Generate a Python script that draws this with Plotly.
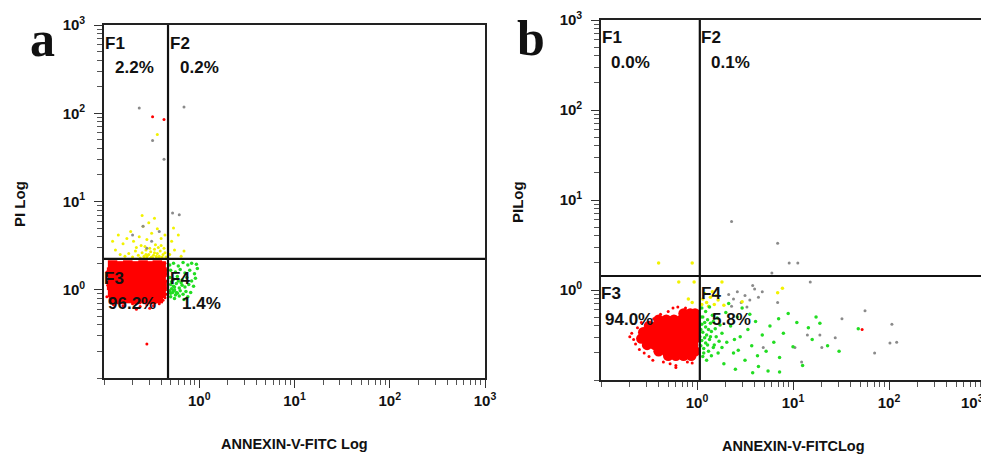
import plotly.graph_objects as go

# ---------------- DATA (event positions in decades, i.e. log10 of intensity) -------------
# Panel a
a_gate_x = 0.47
a_gate_y = 2.24
a_pct = ["2.2%", "0.2%", "96.2%", "1.4%"]

a_red_core_x = [-0.91, -0.83, -0.75, -0.67, -0.59, -0.51, -0.44, -0.40,
                -0.92, -0.84, -0.76, -0.68, -0.60, -0.52, -0.45, -0.39,
                -0.91, -0.83, -0.75, -0.67, -0.59, -0.51, -0.44, -0.40,
                -0.92, -0.84, -0.76, -0.68, -0.60, -0.52, -0.45, -0.39,
                -0.91, -0.83, -0.75, -0.67, -0.59, -0.51, -0.44, -0.40,
                -0.90, -0.82, -0.74, -0.66, -0.58, -0.50, -0.43]
a_red_core_y = [0.28, 0.27, 0.28, 0.27, 0.28, 0.27, 0.28, 0.27,
                0.20, 0.21, 0.20, 0.21, 0.20, 0.21, 0.20, 0.20,
                0.12, 0.13, 0.12, 0.13, 0.12, 0.13, 0.12, 0.13,
                0.05, 0.04, 0.05, 0.04, 0.05, 0.04, 0.05, 0.04,
                -0.03, -0.04, -0.03, -0.04, -0.03, -0.04, -0.03, -0.04,
                -0.10, -0.11, -0.10, -0.11, -0.10, -0.11, -0.10]
a_red_dots_x = [-0.36, -0.35, -0.37, -0.34, -0.36, -0.35, -0.38, -0.34, -0.36,
                -0.90, -0.80, -0.70, -0.62, -0.55, -0.48, -0.42, -0.66, -0.52,
                -0.97, -0.96, -0.97, -0.49, -0.37, -0.55]
a_red_dots_y = [0.30, 0.22, 0.15, 0.10, 0.02, -0.05, -0.12, 0.18, -0.09,
                -0.17, -0.18, -0.16, -0.19, -0.17, -0.18, -0.16, -0.22, -0.21,
                0.20, 0.05, -0.08, 1.96, 1.93, -0.615]

a_yellow_x = [-0.78, -0.74, -0.70, -0.67, -0.64, -0.62, -0.60, -0.58, -0.56, -0.55,
              -0.53, -0.51, -0.50, -0.48, -0.47, -0.45, -0.44, -0.42, -0.41, -0.39,
              -0.38, -0.36, -0.35, -0.66, -0.61, -0.57, -0.52, -0.46, -0.43, -0.40,
              -0.37, -0.88, -0.85, -0.80, -0.76, -0.72, -0.69, -0.63, -0.59, -0.55,
              -0.50, -0.47, -0.44, -0.40, -0.36, -0.31, -0.29, -0.26, -0.22, -0.19,
              -0.16, -0.27, -0.83, -0.91, -0.60, -0.53, -0.44, -0.58, -0.49, -0.54,
              -0.45, -0.51, -0.47, -0.42, -0.56]
a_yellow_y = [0.38, 0.41, 0.37, 0.44, 0.39, 0.36, 0.42, 0.38, 0.45, 0.37,
              0.40, 0.43, 0.37, 0.39, 0.46, 0.36, 0.41, 0.38, 0.44, 0.37,
              0.40, 0.42, 0.37, 0.48, 0.50, 0.49, 0.47, 0.51, 0.48, 0.50,
              0.47, 0.45, 0.62, 0.52, 0.58, 0.66, 0.55, 0.60, 0.72, 0.57,
              0.64, 0.81, 0.69, 0.58, 0.62, 0.40, 0.55, 0.45, 0.62, 0.38,
              0.44, 0.70, 0.40, 0.55, 0.84, 0.76, 1.76, 0.36, 0.36, 0.39,
              0.38, 0.36, 0.42, 0.36, 0.40]

a_green_x = [-0.31, -0.27, -0.22, -0.17, -0.12, -0.08, -0.03,
             -0.30, -0.25, -0.20, -0.15, -0.10, -0.05, -0.02,
             -0.31, -0.27, -0.23, -0.18, -0.13, -0.08, -0.04,
             -0.30, -0.27, -0.24, -0.21, -0.18, -0.15, -0.11, -0.06,
             -0.31, -0.28, -0.26, -0.23, -0.20, -0.17, -0.14, -0.09,
             -0.30, -0.26, -0.21, -0.16, -0.12,
             -0.29, -0.25, -0.19, -0.22, -0.29, -0.27, -0.24, -0.30, -0.26]
a_green_y = [0.28, 0.30, 0.27, 0.31, 0.28, 0.30, 0.29,
             0.22, 0.20, 0.23, 0.19, 0.22, 0.18, 0.24,
             0.14, 0.12, 0.15, 0.11, 0.14, 0.10, 0.13,
             0.06, 0.04, 0.07, 0.02, 0.05, 0.03, 0.06, 0.04,
             -0.01, -0.03, 0.00, -0.04, -0.01, -0.05, -0.02, -0.03,
             -0.08, -0.10, -0.07, -0.11, -0.08,
             0.09, -0.06, 0.08, 0.10, 0.01, -0.01, -0.03, -0.04, 0.03]

a_gray_x = [-0.63, -0.16, -0.49, -0.37, -0.28, -0.21, -0.59, -0.70, -0.50, -0.42, -0.55]
a_gray_y = [2.06, 2.07, 1.69, 1.48, 0.87, 0.85, 0.72, 0.62, 0.55, 0.66, 0.47]

# Panel b
b_gate_x = 1.07
b_gate_y = 1.43
b_pct = ["0.0%", "0.1%", "94.0%", "5.8%"]

b_red_core_x = [-0.14, -0.07, -0.02,
                -0.40, -0.32, -0.24, -0.16, -0.08, -0.02,
                -0.50, -0.42, -0.34, -0.26, -0.18, -0.10, -0.02,
                -0.56, -0.48, -0.40, -0.32, -0.24, -0.16, -0.08, -0.02,
                -0.58, -0.50, -0.42, -0.34, -0.26, -0.18, -0.10, -0.02,
                -0.52, -0.44, -0.36, -0.28, -0.20, -0.12, -0.04,
                -0.40, -0.32, -0.24, -0.16, -0.08, -0.02,
                -0.30, -0.22, -0.14, -0.06]
b_red_core_y = [-0.26, -0.26, -0.26,
                -0.33, -0.33, -0.33, -0.33, -0.33, -0.33,
                -0.40, -0.40, -0.40, -0.40, -0.40, -0.40, -0.40,
                -0.47, -0.47, -0.47, -0.47, -0.47, -0.47, -0.47, -0.47,
                -0.54, -0.54, -0.54, -0.54, -0.54, -0.54, -0.54, -0.54,
                -0.61, -0.61, -0.61, -0.61, -0.61, -0.61, -0.61,
                -0.68, -0.68, -0.68, -0.68, -0.68, -0.68,
                -0.73, -0.73, -0.73, -0.73]
b_red_dots_x = [-0.68, -0.66, -0.64, -0.70, -0.62, -0.60, -0.55, -0.50, -0.45,
                -0.38, -0.30, -0.25, -0.20, -0.12, -0.35, -0.28, -0.22, -0.10,
                -0.58, -0.46, -0.22, -0.05, 1.72]
b_red_dots_y = [-0.48, -0.55, -0.60, -0.52, -0.42, -0.66, -0.70, -0.74, -0.32,
                -0.27, -0.24, -0.20, -0.19, -0.20, -0.80, -0.82, -0.84, -0.80,
                -0.36, -0.78, -0.86, -0.81, -0.44]

b_green_x = [0.05, 0.09, 0.13, 0.06, 0.11, 0.16, 0.21, 0.05, 0.09, 0.14,
             0.19, 0.24, 0.06, 0.10, 0.15, 0.20, 0.26, 0.05, 0.09, 0.13,
             0.18, 0.23, 0.07, 0.12, 0.17, 0.22, 0.06, 0.10, 0.15, 0.04,
             0.04, 0.04, 0.08, 0.12, 0.17, 0.08, 0.03, 0.11, 0.07, 0.14,
             0.30, 0.35, 0.31, 0.38, 0.42, 0.45, 0.50, 0.53, 0.57, 0.61,
             0.64, 0.68, 0.72, 0.76, 0.80, 0.86, 0.90, 0.95, 1.00, 1.04,
             1.10, 1.16, 1.24, 1.28, 1.36, 1.68, 0.28, 0.40, 0.58, 0.47,
             0.33, 0.26, 0.39, 0.63, 0.85, 0.74, 1.20, 0.55, 0.43, 1.48,
             0.86]
b_green_y = [-0.20, -0.24, -0.19, -0.30, -0.33, -0.28, -0.31, -0.38, -0.41, -0.37,
             -0.43, -0.39, -0.47, -0.50, -0.46, -0.52, -0.48, -0.56, -0.59, -0.55,
             -0.61, -0.57, -0.65, -0.68, -0.64, -0.70, -0.74, -0.78, -0.73, -0.44,
             -0.62, -0.30, -0.53, -0.44, -0.35, -0.36, -0.52, -0.61, -0.70, -0.52,
             -0.25, -0.40, -0.58, -0.70, -0.30, -0.52, -0.78, -0.44, -0.62, -0.35,
             -0.85, -0.50, -0.68, -0.40, -0.58, -0.75, -0.48, -0.26, -0.63, -0.36,
             -0.84, -0.42, -0.30, -0.37, -0.62, -0.43, -0.82, -0.88, -0.92, -0.20,
             -0.15, -0.64, -0.55, -0.73, -0.32, -0.90, -0.55, -0.27, -0.67, -0.68,
             -0.91]

b_yellow_x = [-0.40, -0.05, -0.19, -0.03, 0.26, 0.06, 0.10, 0.14, 0.18, 0.22,
              0.28, 0.08, 0.16, 0.84, 0.47, -0.05, -0.09, 0.20, 0.12, 0.05, 0.89]
b_yellow_y = [0.30, 0.30, 0.09, 0.09, 0.09, -0.10, -0.14, -0.08, -0.16, -0.11,
              -0.17, -0.04, -0.02, -0.03, -0.13, -0.14, -0.10, -0.06, -0.18, -0.16, 0.02]

b_gray_x = [0.84, 0.96, 1.05, 0.36, 1.18, 0.78, 1.75, 1.51, 2.03, 1.85,
            2.01, 2.08, 1.09, 1.30, 1.02, 0.69, 1.15, 1.44, 1.28, 0.84,
            0.33, 0.38, 0.42, 0.46, 0.50, 0.55, 0.60, 0.64, 0.36, 0.52, 0.58, 0.68]
b_gray_y = [0.52, 0.30, 0.30, 0.76, 0.09, 0.19, -0.23, -0.32, -0.38, -0.70,
            -0.59, -0.58, -0.80, -0.64, -0.64, -0.64, -0.50, -0.53, -0.50, -0.14,
            -0.05, -0.10, -0.02, -0.14, -0.06, -0.11, 0.01, -0.08, -0.18, -0.19, 0.05, -0.02]

tick_vals = [1, 10, 100, 1000]
tick_text = ["<b>10<sup>0</sup></b>", "<b>10<sup>1</sup></b>",
             "<b>10<sup>2</sup></b>", "<b>10<sup>3</sup></b>"]
axis_range = [-1, 3]

# ---------------- FIGURE -------------------------------------------------------------
# the page body has an 8px margin, so the figure is drawn 8px smaller and
# every page-pixel position below is shifted by that offset
OFF = 8
W, H = 989 - OFF, 456 - OFF
RED, YEL, GRN, GRY = "#ff0000", "#f2f200", "#22dd22", "#8a8a8a"


def lin(v):
    return [10 ** t for t in v]


fig = go.Figure()


def add_pts(xs, ys, color, size, xa, ya, symbol="circle"):
    fig.add_trace(go.Scatter(x=lin(xs), y=lin(ys), mode="markers", xaxis=xa, yaxis=ya,
                             marker=dict(color=color, size=size, symbol=symbol,
                                         line=dict(width=0)),
                             hoverinfo="skip", showlegend=False))


def add_gate(gx, gy, xa, ya):
    lo, hi = 10 ** axis_range[0], 10 ** axis_range[1]
    for xs, ys in (([gx, gx], [lo, hi]), ([lo, hi], [gy, gy])):
        fig.add_trace(go.Scatter(x=xs, y=ys, mode="lines", xaxis=xa, yaxis=ya,
                                 line=dict(color="#111111", width=2.2),
                                 hoverinfo="skip", showlegend=False, cliponaxis=True))


# panel a
add_pts(a_yellow_x, a_yellow_y, YEL, 3, "x", "y")
add_pts(a_gray_x, a_gray_y, GRY, 3, "x", "y")
add_pts(a_green_x, a_green_y, GRN, 3.5, "x", "y")
add_pts(a_red_core_x, a_red_core_y, RED, 9.5, "x", "y", "square")
add_pts(a_red_dots_x, a_red_dots_y, RED, 3, "x", "y")
add_gate(a_gate_x, a_gate_y, "x", "y")

# panel b
add_pts(b_gray_x, b_gray_y, GRY, 3, "x2", "y2")
add_pts(b_yellow_x, b_yellow_y, YEL, 3.5, "x2", "y2")
add_pts(b_green_x, b_green_y, GRN, 3.5, "x2", "y2")
add_pts(b_red_core_x, b_red_core_y, RED, 10.5, "x2", "y2")
add_pts(b_red_dots_x, b_red_dots_y, RED, 3, "x2", "y2")
add_gate(b_gate_x, b_gate_y, "x2", "y2")

FONT = "Liberation Sans"


def axis(domain, anchor, is_x, ttext):
    return dict(type="log", range=axis_range, domain=domain, anchor=anchor,
                automargin=False,
                showline=True, linecolor="#222222", linewidth=1.6, mirror=True,
                showgrid=False, zeroline=False,
                ticks="outside", ticklen=8, tickwidth=1.4, tickcolor="#333333",
                tickmode="array", tickvals=tick_vals, ticktext=ttext,
                tickfont=dict(family=FONT, size=15, color="#111111"),
                ticklabelstandoff=0 if is_x else 6,
                minor=dict(ticks="outside", ticklen=5, tickwidth=1.3, tickcolor="#555555",
                           tickmode="linear", dtick="D1", showgrid=False),
                fixedrange=True)


# plot-area boxes in page pixels (left, right, top, bottom)
ax_a = (104, 485, 25, 378)
ax_b = (601, 985, 20, 380)


def dom(box):
    x0, x1, y0, y1 = box
    return ([(x0 - OFF) / W, (x1 - OFF) / W],
            [1 - (y1 - OFF) / H, 1 - (y0 - OFF) / H])


dxa, dya = dom(ax_a)
dxb, dyb = dom(ax_b)

tick_text_b = tick_text[:3] + [""]

fig.update_layout(
    template="none",
    width=W, height=H, margin=dict(l=0, r=0, t=0, b=0, autoexpand=False),
    paper_bgcolor="white", plot_bgcolor="white", showlegend=False,
    xaxis=axis(dxa, "y", True, tick_text), yaxis=axis(dya, "x", False, tick_text),
    xaxis2=axis(dxb, "y2", True, tick_text_b), yaxis2=axis(dyb, "x2", False, tick_text),
)

ann = []


def text(px, py, s, size=17, xanchor="left", yanchor="middle", angle=0, family=FONT, bold=True):
    ann.append(dict(x=(px - OFF) / W, y=1 - (py - OFF) / H, xref="paper", yref="paper",
                    text=(f"<b>{s}</b>" if bold else s),
                    showarrow=False, xanchor=xanchor, yanchor=yanchor, textangle=angle,
                    font=dict(family=family, size=size, color="#111111")))


# panel a quadrant labels
text(103, 43, "F1"); text(113, 68, a_pct[0])
text(168, 43, "F2"); text(178, 68, a_pct[1])
text(102, 278, "F3"); text(106, 303, a_pct[2])
text(168, 278, "F4"); text(180, 303, a_pct[3])
# panel b quadrant labels
text(600, 38, "F1"); text(609, 63, b_pct[0])
text(699, 38, "F2"); text(709, 63, b_pct[1])
text(599, 293, "F3"); text(603, 319, b_pct[2])
text(699, 293, "F4"); text(710, 319, b_pct[3])

# last x tick label of panel b, kept inside the page
text(986, 401, tick_text[3], size=15, xanchor="right", bold=False)

# axis titles
text(294, 444, "ANNEXIN-V-FITC Log", size=14.5, xanchor="center")
text(793, 446, "ANNEXIN-V-FITCLog", size=14.5, xanchor="center")
text(19, 204, "PI Log", size=15, xanchor="center", angle=-90)
text(517, 202, "PILog", size=15, xanchor="center", angle=-90)

# panel letters
text(42, 9, "a", size=50, xanchor="center", yanchor="top", family="Liberation Serif")
text(531, 8, "b", size=50, xanchor="center", yanchor="top", family="Liberation Serif")

fig.update_layout(annotations=ann)

fig.write_html("out.html")
